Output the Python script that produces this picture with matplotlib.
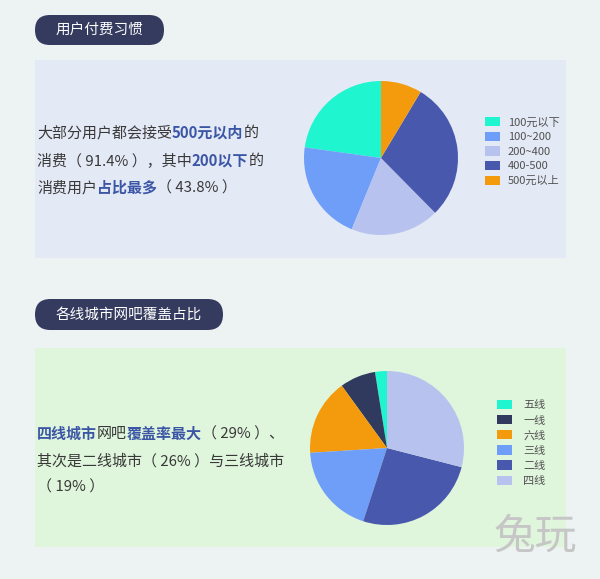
import matplotlib
matplotlib.use("Agg")
import matplotlib.pyplot as plt
from matplotlib.patches import FancyBboxPatch, Rectangle
from matplotlib.font_manager import FontProperties, findfont, get_font

plt.rcParams['font.family'] = ['Noto Sans CJK SC', 'DejaVu Sans']

# data
spend_labels = ["100元以下", "100~200", "200~400", "400-500", "500元以上"]
spend_values = [22.8, 21.0, 18.6, 29.0, 8.6]
spend_colors = ["#1ff5cf", "#6e9ef8", "#b7c3ee", "#4859ad", "#f49a0d"]

city_labels = ["五线", "一线", "六线", "三线", "二线", "四线"]
city_values = [2.5, 7.5, 16, 19, 26, 29]
city_colors = ["#1ff5cf", "#2f3a5e", "#f49a0d", "#6e9ef8", "#4859ad", "#b7c3ee"]

title1 = "用户付费习惯"
title2 = "各线城市网吧覆盖占比"
text1 = [
    [("大部分用户都会接受", 0), ("500元以内", 1), ("的", 0)],
    [("消费（ 91.4% ），其中", 0), ("200以下", 1), ("的", 0)],
    [("消费用户", 0), ("占比最多", 1), ("（ 43.8% ）", 0)],
]
text2 = [
    [("四线城市", 1), ("网吧", 0), ("覆盖率最大", 1), ("（ 29% ）、", 0)],
    [("其次是二线城市（ 26% ）与三线城市", 0)],
    [("（ 19% ）", 0)],
]

W, H = 600, 579
fig = plt.figure(figsize=(W / 100, H / 100), dpi=100, facecolor="#edf3f3")
bg = fig.add_axes([0, 0, 1, 1])
bg.set_xlim(0, W)
bg.set_ylim(H, 0)
bg.axis("off")

TXT = "#383838"
HL = "#3c56a6"
FS = 10.8


def badge(x0, x1, y0, y1, label):
    h = y1 - y0
    p = FancyBboxPatch((x0, y0), x1 - x0, h,
                       boxstyle="round,pad=0,rounding_size=%f" % (h / 2),
                       fc="#343b5e", ec="none")
    bg.add_patch(p)
    bg.text((x0 + x1) / 2, (y0 + y1) / 2, label, color="white", fontsize=10.5,
            ha="center", va="center")


def advance(s, weight):
    # sum of glyph advances in pixels
    prop = FontProperties(family="Noto Sans CJK SC", weight=weight, size=FS)
    f = get_font(findfont(prop))
    f.set_size(FS, 100)
    total = 0.0
    for c in s:
        g = f.load_char(ord(c))
        total += g.linearHoriAdvance / 65536
    return total


def rich_lines(x, ys, lines):
    for y, parts in zip(ys, lines):
        xx = x
        for s, hl in parts:
            weight = "bold" if hl else "normal"
            bg.text(xx, y, s, color=HL if hl else TXT, fontsize=FS,
                    fontweight=weight, ha="left", va="center")
            xx += advance(s, weight)


# panel 1
badge(35, 164, 15, 45, title1)
bg.add_patch(Rectangle((35, 60), 531, 198, fc="#e4e9f6", ec="none"))
rich_lines(37, [133, 161, 188], text1)

# panel 2
badge(35, 223, 299, 330, title2)
bg.add_patch(Rectangle((35, 348), 531, 199, fc="#dff5dc", ec="none"))
rich_lines(37, [434, 461, 487], text2)

# watermark
bg.text(535, 537, "兔玩", color="#c6c6c6", fontsize=30, ha="center", va="center")


def pie_axes(cx, cy, r):
    return fig.add_axes([(cx - r) / W, (H - cy - r) / H, 2 * r / W, 2 * r / H])


ax1 = pie_axes(381, 158, 77)
w1, _ = ax1.pie(spend_values, colors=spend_colors, startangle=90,
                counterclock=True, wedgeprops=dict(linewidth=0))
ax1.set_xlim(-1, 1)
ax1.set_ylim(-1, 1)
fig.legend(w1, spend_labels, loc="upper left",
           bbox_to_anchor=(485 / W, 1 - 117 / H), frameon=False,
           fontsize=8, labelcolor="#505050", borderpad=0, borderaxespad=0,
           handlelength=1.35, handleheight=0.9, handletextpad=0.7,
           labelspacing=0.38)

ax2 = pie_axes(387, 448, 77)
w2, _ = ax2.pie(city_values, colors=city_colors, startangle=90,
                counterclock=True, wedgeprops=dict(linewidth=0))
ax2.set_xlim(-1, 1)
ax2.set_ylim(-1, 1)
fig.legend(w2, city_labels, loc="upper left",
           bbox_to_anchor=(497 / W, 1 - 400 / H), frameon=False,
           fontsize=8, labelcolor="#505050", borderpad=0, borderaxespad=0,
           handlelength=1.35, handleheight=0.9, handletextpad=1.0,
           labelspacing=0.42)

fig.savefig("out.png", dpi=100, facecolor=fig.get_facecolor())
